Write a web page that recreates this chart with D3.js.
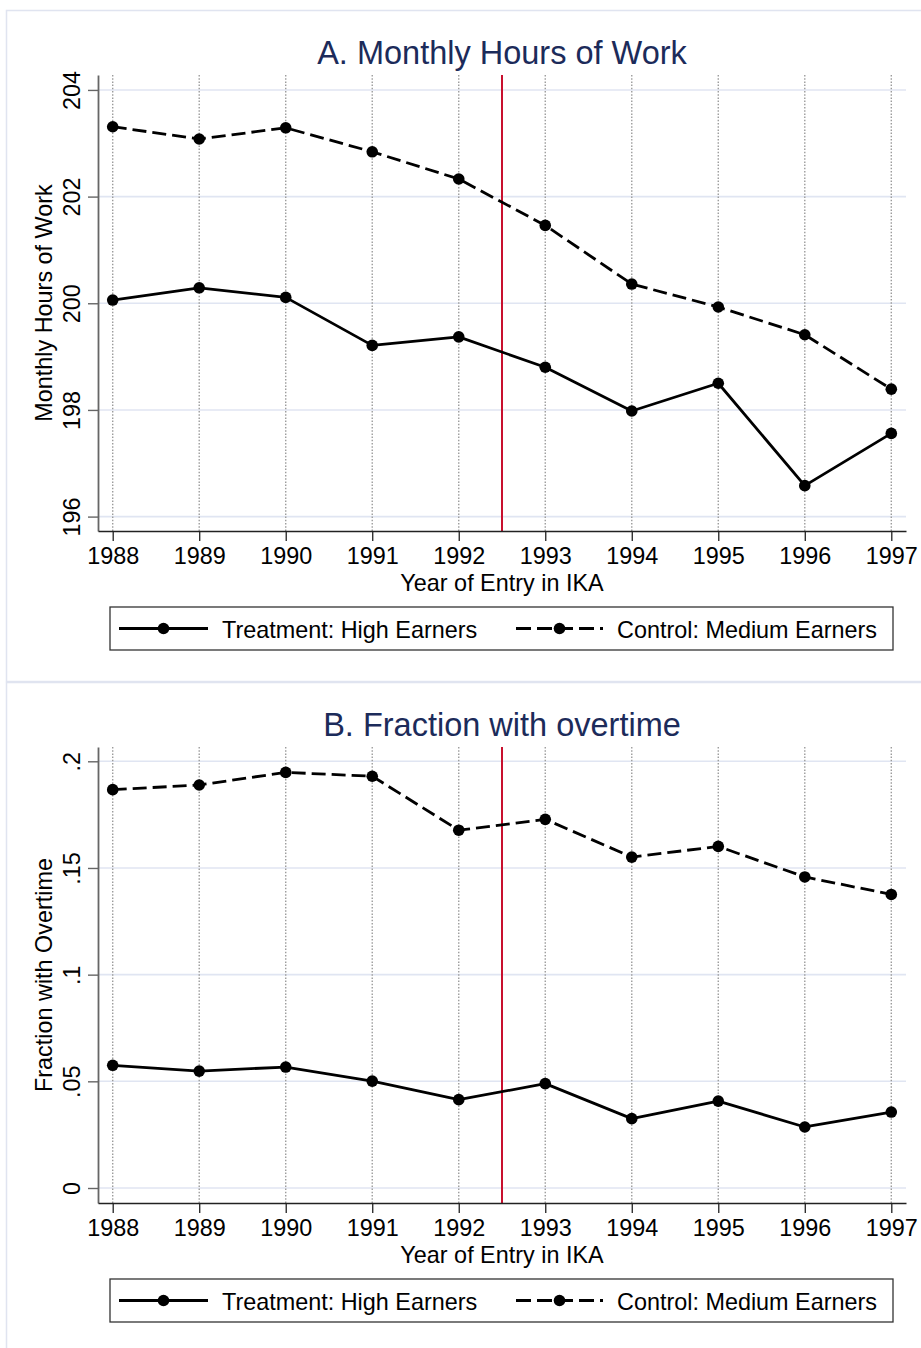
<!DOCTYPE html>
<html>
<head>
<meta charset="utf-8">
<script src="https://cdn.jsdelivr.net/npm/d3@7"></script>
<style>
  html, body { margin: 0; padding: 0; background: #ffffff; }
  svg { display: block; }
  text { font-family: "Liberation Sans", Arial, sans-serif; }
</style>
</head>
<body>
<div id="chart"></div>
<script>
// ---------- DATA ----------
const years = [1988, 1989, 1990, 1991, 1992, 1993, 1994, 1995, 1996, 1997];

const hoursTreatment = [200.06, 200.29, 200.11, 199.21, 199.37, 198.80, 197.98, 198.50, 196.58, 197.56];
const hoursControl   = [203.31, 203.08, 203.29, 202.84, 202.33, 201.46, 200.36, 199.93, 199.41, 198.39];

const overtimeTreatment = [0.0575, 0.0548, 0.0567, 0.0501, 0.0414, 0.0489, 0.0325, 0.0407, 0.0286, 0.0356];
const overtimeControl   = [0.1867, 0.1889, 0.1948, 0.1930, 0.1677, 0.1728, 0.1551, 0.1601, 0.1458, 0.1376];

const hoursTicks = [196, 198, 200, 202, 204];
const hoursTickLabels = ["196", "198", "200", "202", "204"];
const overtimeTicks = [0, 0.05, 0.1, 0.15, 0.2];
const overtimeTickLabels = ["0", ".05", ".1", ".15", ".2"];

const reformYear = 1992.5;
const seriesNames = ["Treatment: High Earners", "Control: Medium Earners"];
const panelTitles = ["A. Monthly Hours of Work", "B. Fraction with overtime"];
const yTitles = ["Monthly Hours of Work", "Fraction with Overtime"];
const xTitle = "Year of Entry in IKA";

// ---------- LAYOUT ----------
const W = 921, H = 1348;
const svg = d3.select("#chart").append("svg").attr("width", W).attr("height", H);

const plotLeft = 98, plotRight = 906, plotTop = 75, plotBottom = 531;
const x = d3.scaleLinear().domain([1987.83, 1997.17]).range([plotLeft, plotRight]);

const FONT = 23.4;
const TITLE_COLOR = "#1c2b5a";
const GRID_H = "#e0e5f2";
const GRID_V = "#9c9c9c";
const RED = "#c8102e";
const DASH = "14,6";
const LW = 2.8;
const R = 5.8;

function drawPanel(offsetY, cfg) {
  const g = svg.append("g").attr("transform", `translate(0,${offsetY})`);

  // panel frame
  g.append("rect")
    .attr("x", 6.5).attr("y", 10.5)
    .attr("width", 940).attr("height", cfg.frameH)
    .attr("fill", "#ffffff").attr("stroke", "#e0e4f0").attr("stroke-width", 1.5);

  const y = d3.scaleLinear().domain(cfg.yDomain).range([plotBottom, plotTop]);

  // horizontal grid
  g.append("g").selectAll("line").data(cfg.ticks).join("line")
    .attr("x1", plotLeft).attr("x2", plotRight)
    .attr("y1", d => y(d)).attr("y2", d => y(d))
    .attr("stroke", GRID_H).attr("stroke-width", 1.6);

  // vertical dotted grid
  g.append("g").selectAll("line").data(years).join("line")
    .attr("x1", d => x(d)).attr("x2", d => x(d))
    .attr("y1", plotTop).attr("y2", plotBottom)
    .attr("stroke", GRID_V).attr("stroke-width", 1.4)
    .attr("stroke-dasharray", "1.5,1.7");

  // reform line
  g.append("line")
    .attr("x1", x(reformYear)).attr("x2", x(reformYear))
    .attr("y1", plotTop).attr("y2", plotBottom)
    .attr("stroke", RED).attr("stroke-width", 2);

  // y axis
  const yAxis = d3.axisLeft(y).tickValues(cfg.ticks)
    .tickFormat((d, i) => cfg.tickLabels[i]).tickSize(10).tickSizeOuter(0);
  const ya = g.append("g").attr("transform", `translate(${plotLeft},0)`).call(yAxis);
  ya.select(".domain").attr("stroke", "#666").attr("stroke-width", 1.8);
  ya.selectAll(".tick line").attr("stroke", "#666").attr("stroke-width", 1.4);
  ya.selectAll(".tick text")
    .attr("transform", "rotate(-90)")
    .attr("x", 0).attr("y", -18).attr("dy", 0)
    .attr("text-anchor", "middle")
    .attr("font-size", FONT).attr("fill", "#000")
    .style("font-family", "'Liberation Sans', Arial, sans-serif");

  // x axis
  const xAxis = d3.axisBottom(x).tickValues(years).tickFormat(d3.format("d"))
    .tickSize(10).tickSizeOuter(0);
  const xa = g.append("g").attr("transform", `translate(0,${plotBottom})`).call(xAxis);
  xa.select(".domain").attr("stroke", "#222").attr("stroke-width", 1.3);
  xa.selectAll(".tick line").attr("stroke", "#222").attr("stroke-width", 1.3);
  xa.selectAll(".tick text")
    .attr("y", 33).attr("dy", 0)
    .attr("font-size", FONT).attr("fill", "#000")
    .style("font-family", "'Liberation Sans', Arial, sans-serif");

  // titles
  g.append("text").attr("x", (plotLeft + plotRight) / 2).attr("y", 64)
    .attr("text-anchor", "middle").attr("font-size", 32.5).attr("fill", TITLE_COLOR)
    .text(cfg.title);
  g.append("text").attr("transform", `translate(52,${(plotTop + plotBottom) / 2}) rotate(-90)`)
    .attr("text-anchor", "middle").attr("font-size", FONT).attr("fill", "#000")
    .text(cfg.yTitle);
  g.append("text").attr("x", (plotLeft + plotRight) / 2).attr("y", 590.5)
    .attr("text-anchor", "middle").attr("font-size", FONT).attr("fill", "#000")
    .text(xTitle);

  // series
  const line = d3.line().x((d, i) => x(years[i])).y(d => y(d));
  const series = [
    { vals: cfg.treat, dash: null },
    { vals: cfg.ctrl, dash: DASH }
  ];
  series.forEach(s => {
    g.append("path").datum(s.vals)
      .attr("d", line).attr("fill", "none")
      .attr("stroke", "#000").attr("stroke-width", LW)
      .attr("stroke-linejoin", "round")
      .attr("stroke-dasharray", s.dash);
    g.append("g").selectAll("circle").data(s.vals).join("circle")
      .attr("cx", (d, i) => x(years[i])).attr("cy", d => y(d))
      .attr("r", R).attr("fill", "#000");
  });

  // legend
  const lg = g.append("g");
  lg.append("rect").attr("x", 110).attr("y", 607).attr("width", 783).attr("height", 43)
    .attr("fill", "#fff").attr("stroke", "#333").attr("stroke-width", 1.3);
  const legendItems = [
    { x1: 119, x2: 208, xt: 222, dash: null, name: seriesNames[0] },
    { x1: 516, x2: 603, xt: 617, dash: "15,6", name: seriesNames[1] }
  ];
  legendItems.forEach(it => {
    lg.append("line").attr("x1", it.x1).attr("x2", it.x2).attr("y1", 628.5).attr("y2", 628.5)
      .attr("stroke", "#000").attr("stroke-width", LW).attr("stroke-dasharray", it.dash);
    lg.append("circle").attr("cx", (it.x1 + it.x2) / 2).attr("cy", 628.5).attr("r", R).attr("fill", "#000");
    lg.append("text").attr("x", it.xt).attr("y", 637.5).attr("font-size", FONT).attr("fill", "#000")
      .text(it.name);
  });
}

drawPanel(0, {
  frameH: 671, yDomain: [195.73, 204.28], ticks: hoursTicks, tickLabels: hoursTickLabels,
  title: panelTitles[0], yTitle: yTitles[0], treat: hoursTreatment, ctrl: hoursControl
});
drawPanel(672, {
  frameH: 700, yDomain: [-0.00703, 0.2067], ticks: overtimeTicks, tickLabels: overtimeTickLabels,
  title: panelTitles[1], yTitle: yTitles[1], treat: overtimeTreatment, ctrl: overtimeControl
});
</script>
</body>
</html>
